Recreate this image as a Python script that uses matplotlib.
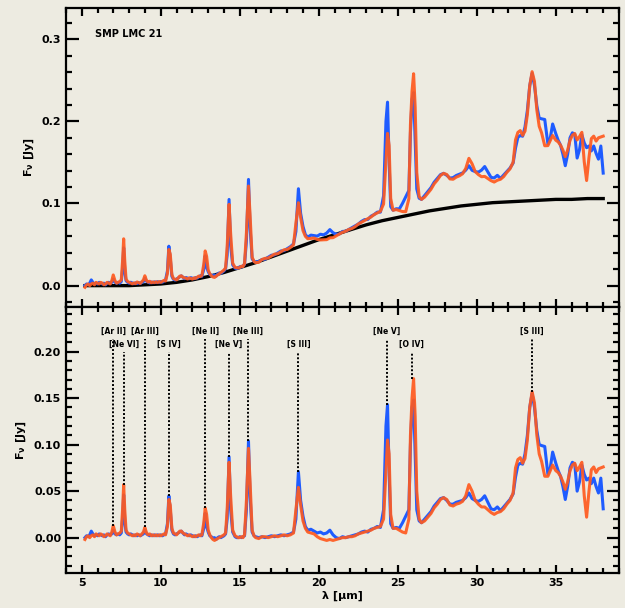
import numpy as np
import matplotlib.pyplot as plt
from matplotlib.ticker import MultipleLocator, FormatStrFormatter

plt.rcParams['font.family'] = ['DejaVu Sans']
plt.rcParams['font.weight'] = 'bold'
plt.rcParams['mathtext.default'] = 'bf'

# continuum-subtracted spectra (Jy) on a common wavelength grid (micron)
wave = [5.2, 5.3, 5.4, 5.5, 5.6, 5.7, 5.8, 5.9, 6.0, 6.1, 6.2, 6.3, 6.4, 6.5, 6.6, 6.7,
        6.8, 6.9, 6.99, 7.1, 7.2, 7.3, 7.4, 7.5, 7.58, 7.65, 7.72, 7.8, 7.9, 8.0, 8.1,
        8.2, 8.3, 8.4, 8.5, 8.6, 8.7, 8.8, 8.9, 8.99, 9.1, 9.2, 9.3, 9.4, 9.5, 9.6, 9.7,
        9.8, 9.9, 10.0, 10.1, 10.2, 10.3, 10.42, 10.51, 10.6, 10.7, 10.8, 10.9, 11.0,
        11.1, 11.2, 11.3, 11.4, 11.5, 11.6, 11.7, 11.8, 11.9, 12.0, 12.1, 12.2, 12.3,
        12.4, 12.5, 12.6, 12.72, 12.81, 12.9, 13.0, 13.1, 13.2, 13.3, 13.4, 13.5, 13.6,
        13.7, 13.8, 13.9, 14.0, 14.1, 14.2, 14.32, 14.42, 14.55, 14.7, 14.8, 14.9, 15.0,
        15.1, 15.2, 15.3, 15.42, 15.55, 15.65, 15.78, 15.9, 16.0, 16.2, 16.4, 16.6, 16.8,
        17.0, 17.2, 17.4, 17.6, 17.8, 18.0, 18.2, 18.4, 18.55, 18.71, 18.85, 19.0, 19.15,
        19.3, 19.5, 19.7, 19.9, 20.1, 20.3, 20.5, 20.7, 20.9, 21.1, 21.3, 21.5, 21.7,
        21.9, 22.1, 22.3, 22.5, 22.7, 22.9, 23.1, 23.3, 23.5, 23.7, 23.9, 24.1, 24.25,
        24.35, 24.45, 24.55, 24.7, 24.9, 25.1, 25.3, 25.5, 25.7, 25.8, 25.9, 26.0, 26.1,
        26.2, 26.35, 26.5, 26.7, 26.9, 27.1, 27.3, 27.5, 27.7, 27.9, 28.1, 28.3, 28.5,
        28.7, 28.9, 29.1, 29.3, 29.5, 29.7, 29.9, 30.1, 30.3, 30.5, 30.7, 30.9, 31.1,
        31.3, 31.5, 31.7, 31.9, 32.1, 32.3, 32.45, 32.6, 32.75, 32.9, 33.05, 33.2, 33.35,
        33.5, 33.65, 33.8, 33.95, 34.1, 34.3, 34.5, 34.65, 34.8, 35.0, 35.15, 35.3, 35.45,
        35.6, 35.75, 35.9, 36.05, 36.2, 36.35, 36.5, 36.65, 36.8, 36.95, 37.1, 37.25,
        37.4, 37.55, 37.7, 37.85, 38.0]

resid_blue = [0.000, 0.002, 0.001, 0.003, 0.007, 0.004, 0.002, 0.003, 0.002, 0.004, 0.003,
              0.002, 0.003, 0.001, 0.003, 0.004, 0.003, 0.004, 0.008, 0.004, 0.003, 0.004,
              0.003, 0.005, 0.020, 0.046, 0.018, 0.006, 0.004, 0.003, 0.004, 0.003, 0.002,
              0.003, 0.002, 0.003, 0.002, 0.003, 0.004, 0.008, 0.004, 0.003, 0.002, 0.003,
              0.002, 0.003, 0.002, 0.003, 0.002, 0.003, 0.002, 0.003, 0.004, 0.015, 0.045,
              0.030, 0.008, 0.004, 0.003, 0.004, 0.005, 0.006, 0.007, 0.005, 0.003, 0.004,
              0.003, 0.002, 0.003, 0.002, 0.001, 0.002, 0.001, 0.002, 0.003, 0.002, 0.010,
              0.026, 0.012, 0.006, 0.002, 0.001, -0.001, 0.000, -0.002, 0.000, 0.001, 0.000,
              0.001, 0.002, 0.004, 0.020, 0.087, 0.030, 0.006, 0.001, 0.000, 0.000, 0.001,
              0.000, 0.001, 0.002, 0.030, 0.104, 0.045, 0.006, 0.002, 0.001, 0.000, 0.001,
              0.000, 0.001, 0.002, 0.001, 0.002, 0.003, 0.002, 0.003, 0.004, 0.006, 0.020,
              0.071, 0.040, 0.023, 0.012, 0.008, 0.009, 0.007, 0.005, 0.006, 0.004, 0.005,
              0.008, 0.003, 0.000, -0.001, 0.001, 0.000, 0.001, 0.002, 0.003, 0.004, 0.006,
              0.007, 0.006, 0.009, 0.010, 0.012, 0.011, 0.030, 0.120, 0.143, 0.070, 0.015,
              0.010, 0.011, 0.010, 0.016, 0.023, 0.030, 0.100, 0.140, 0.148, 0.090, 0.030,
              0.018, 0.016, 0.020, 0.024, 0.028, 0.034, 0.038, 0.042, 0.043, 0.040, 0.036,
              0.036, 0.038, 0.039, 0.040, 0.043, 0.048, 0.042, 0.040, 0.039, 0.041, 0.045,
              0.038, 0.031, 0.030, 0.033, 0.029, 0.033, 0.037, 0.041, 0.047, 0.065, 0.078,
              0.080, 0.079, 0.090, 0.110, 0.140, 0.155, 0.140, 0.115, 0.100, 0.099, 0.098,
              0.068, 0.075, 0.092, 0.080, 0.072, 0.066, 0.055, 0.041, 0.055, 0.075, 0.081,
              0.079, 0.050, 0.060, 0.078, 0.068, 0.062, 0.064, 0.058, 0.064, 0.055, 0.048,
              0.064, 0.031]

resid_orange = [-0.002, 0.001, 0.002, 0.000, 0.002, 0.003, 0.001, 0.004, 0.003, 0.002, 0.004,
                0.003, 0.001, 0.002, 0.004, 0.003, 0.002, 0.006, 0.013, 0.006, 0.003, 0.004,
                0.005, 0.007, 0.030, 0.057, 0.030, 0.008, 0.005, 0.004, 0.003, 0.002, 0.003,
                0.002, 0.004, 0.003, 0.002, 0.004, 0.006, 0.011, 0.005, 0.003, 0.004, 0.002,
                0.003, 0.002, 0.003, 0.002, 0.003, 0.002, 0.003, 0.004, 0.003, 0.012, 0.041,
                0.035, 0.010, 0.005, 0.004, 0.003, 0.005, 0.007, 0.007, 0.005, 0.004, 0.003,
                0.002, 0.003, 0.002, 0.001, 0.002, 0.001, 0.002, 0.003, 0.002, 0.003, 0.016,
                0.032, 0.025, 0.008, 0.003, 0.000, -0.002, -0.003, -0.002, -0.001, 0.000, 0.001,
                0.002, 0.003, 0.005, 0.030, 0.081, 0.045, 0.008, 0.002, 0.001, 0.000, 0.000,
                0.001, 0.000, 0.003, 0.040, 0.096, 0.060, 0.008, 0.002, 0.000, -0.001, 0.001,
                0.001, 0.000, 0.001, 0.002, 0.001, 0.002, 0.003, 0.002, 0.003, 0.005, 0.030,
                0.054, 0.035, 0.018, 0.010, 0.006, 0.005, 0.004, 0.001, -0.001, -0.002, -0.003,
                -0.002, -0.003, -0.002, -0.001, 0.000, 0.000, 0.001, 0.001, 0.002, 0.004, 0.005,
                0.006, 0.007, 0.008, 0.010, 0.011, 0.012, 0.020, 0.070, 0.105, 0.090, 0.025,
                0.010, 0.010, 0.008, 0.006, 0.005, 0.020, 0.110, 0.150, 0.171, 0.130, 0.050,
                0.020, 0.016, 0.018, 0.022, 0.026, 0.032, 0.036, 0.041, 0.043, 0.041, 0.035,
                0.034, 0.036, 0.037, 0.039, 0.045, 0.057, 0.050, 0.040, 0.036, 0.033, 0.033,
                0.030, 0.027, 0.025, 0.027, 0.028, 0.031, 0.036, 0.040, 0.048, 0.075, 0.084,
                0.086, 0.080, 0.085, 0.105, 0.140, 0.157, 0.145, 0.110, 0.090, 0.082, 0.066,
                0.066, 0.072, 0.078, 0.072, 0.070, 0.066, 0.060, 0.052, 0.060, 0.072, 0.078,
                0.080, 0.072, 0.076, 0.081, 0.045, 0.022, 0.050, 0.073, 0.076, 0.070, 0.074,
                0.075, 0.076]

# fitted dust continuum (Jy)
cont_wave = [5.2, 6, 7, 8, 9, 10, 11, 12, 13, 14, 15, 16, 17, 18, 19, 20, 21, 22, 23, 24,
             25, 26, 27, 28, 29, 30, 31, 32, 33, 34, 35, 36, 37, 38]
cont_flux = [0.000, 0.000, 0.000, 0.000, 0.001, 0.002, 0.004, 0.007, 0.011, 0.016, 0.022,
             0.028, 0.035, 0.042, 0.049, 0.056, 0.062, 0.068, 0.074, 0.079, 0.083, 0.087,
             0.091, 0.094, 0.097, 0.099, 0.101, 0.102, 0.103, 0.104, 0.105, 0.105, 0.106,
             0.106]

line_names = ['[Ar II]', '[Ne VI]', '[Ar III]', '[S IV]', '[Ne II]', '[Ne V]', '[Ne III]',
              '[S III]', '[Ne V]', '[O IV]', '[S III]']
line_waves = [6.99, 7.65, 8.99, 10.51, 12.81, 14.32, 15.55, 18.71, 24.32, 25.89, 33.48]
line_row = [0, 1, 0, 1, 0, 1, 0, 1, 0, 1, 0]

wave = np.array(wave)
resid_blue = np.array(resid_blue)
resid_orange = np.array(resid_orange)
cont_on_grid = np.interp(wave, cont_wave, cont_flux)
flux_blue = resid_blue + cont_on_grid
flux_orange = resid_orange + cont_on_grid

BLUE = '#1f5cff'
ORANGE = '#ff5a1f'
BG = '#edebe1'

fig = plt.figure(figsize=(6.25, 6.08), dpi=100, facecolor=BG)
ax1 = fig.add_axes([0.1056, 0.4951, 0.8848, 0.4917], facecolor=BG)
ax2 = fig.add_axes([0.1056, 0.0576, 0.8848, 0.4375], facecolor=BG)

ax1.plot(cont_wave, cont_flux, color='black', lw=2.4, zorder=2)
ax1.plot(wave, flux_blue, color=BLUE, lw=2.2, zorder=3)
ax1.plot(wave, flux_orange, color=ORANGE, lw=2.2, alpha=0.92, zorder=4)
ax1.text(0.052, 0.913, 'SMP LMC 21', transform=ax1.transAxes, fontsize=7,
         fontweight='bold', va='center')

ax2.plot(wave, resid_blue, color=BLUE, lw=2.2, zorder=3)
ax2.plot(wave, resid_orange, color=ORANGE, lw=2.2, alpha=0.92, zorder=4)

for name, lw0, row in zip(line_names, line_waves, line_row):
    near = np.abs(wave - lw0) < 0.12
    peak = max(resid_blue[near].max(), resid_orange[near].max())
    top = 0.214 if row == 0 else 0.200
    ylab = 0.2215 if row == 0 else 0.2075
    ax2.plot([lw0, lw0], [peak, top], color='black', lw=1.4, ls=(0, (1, 1)), zorder=5)
    ax2.text(lw0, ylab, name, ha='center', va='center', fontsize=5.5, fontweight='bold')

for ax in (ax1, ax2):
    ax.set_xlim(4, 39)
    ax.xaxis.set_major_locator(MultipleLocator(5))
    ax.xaxis.set_minor_locator(MultipleLocator(1))
    ax.tick_params(axis='both', which='both', direction='in', top=True, right=True,
                   width=1.6, labelsize=8)
    ax.tick_params(axis='x', which='major', length=6)
    ax.tick_params(axis='x', which='minor', length=3.5)
    ax.tick_params(axis='y', which='major', length=9)
    ax.tick_params(axis='y', which='minor', length=4.5)
    for s in ax.spines.values():
        s.set_linewidth(1.6)
    for lab in ax.get_xticklabels() + ax.get_yticklabels():
        lab.set_fontweight('bold')
    ax.set_ylabel('F$_ν$ [Jy]', fontsize=8, fontweight='bold')

ax1.set_ylim(-0.026, 0.338)
ax1.yaxis.set_major_locator(MultipleLocator(0.1))
ax1.yaxis.set_minor_locator(MultipleLocator(0.02))
ax1.yaxis.set_major_formatter(FormatStrFormatter('%.1f'))
ax1.tick_params(axis='x', labelbottom=False)

ax2.set_ylim(-0.038, 0.248)
ax2.yaxis.set_major_locator(MultipleLocator(0.05))
ax2.yaxis.set_minor_locator(MultipleLocator(0.01))
ax2.yaxis.set_major_formatter(FormatStrFormatter('%.2f'))
ax2.set_xlabel('λ [μm]', fontsize=8, fontweight='bold', labelpad=2)

fig.savefig('out.png', dpi=100, facecolor=BG)
